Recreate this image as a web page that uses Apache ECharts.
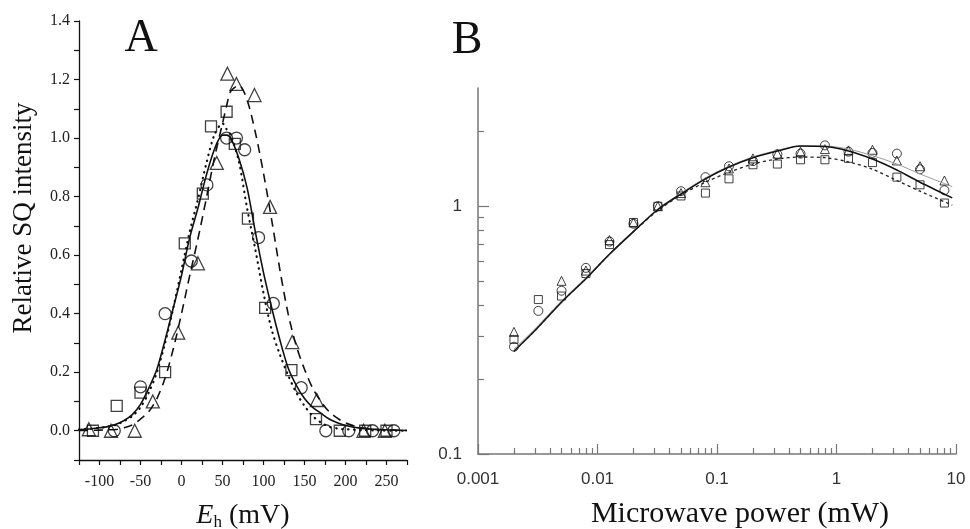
<!DOCTYPE html>
<html>
<head>
<meta charset="utf-8">
<script src="https://cdn.jsdelivr.net/npm/echarts@6/dist/echarts.min.js"></script>
<style>
html, body { margin: 0; padding: 0; background: #fff; }
#main { width: 970px; height: 529px; }
</style>
</head>
<body>
<div id="main"></div>
<script>
// panel A - SQ intensity vs Eh
var aCircleE = [-82, -50, -20, 12, 31, 55, 67, 77, 94, 112, 146, 176, 204, 233, 259];
var aCircleI = [0, 0.15, 0.40, 0.58, 0.84, 1.0, 1.0, 0.96, 0.66, 0.435, 0.147, 0, 0, 0, 0];
var aSquareE = [-108, -79, -50, -20, 4, 26, 36, 55, 65, 81, 102, 134, 164, 193, 224, 250];
var aSquareI = [0, 0.085, 0.13, 0.20, 0.64, 0.81, 1.04, 1.09, 0.98, 0.725, 0.42, 0.207, 0.04, 0, 0, 0];
var aTriE = [-113, -86, -57, -35, -4, 20, 43, 56, 67, 89, 108, 135, 165, 222, 248];
var aTriI = [0.005, 0, 0, 0.10, 0.335, 0.572, 0.915, 1.22, 1.185, 1.147, 0.765, 0.303, 0.105, 0, 0];

var fitE = [-125, -110, -100, -90, -80, -70, -60, -50, -40, -30, -20, -10, 0, 10, 20, 30, 40, 50, 55, 60, 70, 80, 90, 100, 110, 120, 130, 140, 150, 160, 170, 180, 190, 200, 220, 240, 260, 275];
var fitSolid = [0.004, 0.007, 0.010, 0.014, 0.022, 0.035, 0.055, 0.09, 0.145, 0.21, 0.31, 0.42, 0.53, 0.66, 0.76, 0.87, 0.96, 1.01, 1.01, 1.0, 0.93, 0.83, 0.68, 0.54, 0.42, 0.31, 0.215, 0.155, 0.11, 0.08, 0.06, 0.04, 0.027, 0.018, 0.008, 0.004, 0.002, 0.001];
var fitDash = [0.001, 0.0015, 0.002, 0.003, 0.004, 0.01, 0.02, 0.04, 0.065, 0.11, 0.18, 0.28, 0.40, 0.53, 0.655, 0.79, 0.93, 1.05, 1.11, 1.16, 1.18, 1.13, 1.02, 0.88, 0.72, 0.55, 0.40, 0.29, 0.21, 0.145, 0.10, 0.065, 0.043, 0.027, 0.01, 0.004, 0.002, 0.001];
var fitDot = [0.004, 0.007, 0.01, 0.014, 0.02, 0.033, 0.05, 0.08, 0.13, 0.20, 0.30, 0.42, 0.55, 0.68, 0.79, 0.91, 1.01, 1.05, 1.03, 1.01, 0.92, 0.76, 0.62, 0.47, 0.345, 0.26, 0.19, 0.13, 0.085, 0.05, 0.028, 0.014, 0.008, 0.005, 0.002, 0.001, 0, 0];

// panel B - power saturation
var bPower = [0.002, 0.0032, 0.005, 0.008, 0.0126, 0.02, 0.032, 0.05, 0.08, 0.126, 0.2, 0.32, 0.5, 0.8, 1.26, 2, 3.2, 5, 8];
var bCircle = [0.271, 0.378, 0.456, 0.564, 0.72, 0.85, 1.0, 1.15, 1.31, 1.45, 1.52, 1.62, 1.63, 1.76, 1.66, 1.64, 1.63, 1.41, 1.16];
var bSquare = [0.29, 0.42, 0.434, 0.535, 0.70, 0.86, 1.0, 1.10, 1.13, 1.29, 1.47, 1.48, 1.54, 1.54, 1.56, 1.50, 1.31, 1.22, 1.03];
var bTriangle = [0.311, null, 0.50, 0.55, 0.73, 0.86, 1.0, 1.13, 1.25, 1.42, 1.56, 1.63, 1.66, 1.70, 1.68, 1.69, 1.53, 1.45, 1.27];

var bFitP = [0.002, 0.003, 0.005, 0.008, 0.0126, 0.02, 0.032, 0.05, 0.08, 0.126, 0.2, 0.32, 0.5, 0.8, 1.26, 2, 3.2, 5, 9.3];
var bFitSolid = [0.26, 0.315, 0.41, 0.51, 0.64, 0.79, 0.97, 1.12, 1.29, 1.44, 1.57, 1.67, 1.75, 1.74, 1.67, 1.55, 1.40, 1.25, 1.08];
var bFitThin = [0.265, 0.32, 0.415, 0.515, 0.645, 0.795, 0.975, 1.13, 1.30, 1.45, 1.58, 1.68, 1.75, 1.75, 1.70, 1.60, 1.48, 1.35, 1.20];
var bFitDot = [0.26, 0.315, 0.41, 0.51, 0.64, 0.79, 0.96, 1.11, 1.25, 1.37, 1.48, 1.55, 1.58, 1.57, 1.51, 1.41, 1.27, 1.15, 1.01];

var bMajorX = [0.001, 0.01, 0.1, 1, 10];
var bMajorY = [0.1, 1];
var bMinorY = [0.2, 0.3, 0.4, 0.5, 0.6, 0.7, 0.8, 0.9, 2];
var bMinorX = [];
for (var d = 0; d < 4; d++) {
    for (var k = 2; k <= 9; k++) {
        bMinorX.push(+(k * bMajorX[d]).toPrecision(3));
    }
}

function zip(xs, ys) {
    var out = [];
    for (var i = 0; i < xs.length; i++) {
        if (ys[i] != null) out.push([xs[i], ys[i]]);
    }
    return out;
}

var serif = 'Liberation Serif';
var sans = 'Liberation Sans';
var hollow = function (w) {
    return { color: 'rgba(0,0,0,0)', borderColor: '#111', borderWidth: w };
};

var chart = echarts.init(document.getElementById('main'));
var option = {
    animation: false,
    backgroundColor: '#fff',
    grid: [
        { left: 79, top: 21, width: 328, height: 439 },
        { left: 478, top: 88, width: 478, height: 366 }
    ],
    xAxis: [
        {
            gridIndex: 0, type: 'value', min: -125, max: 275, interval: 25,
            axisLine: { onZero: false, lineStyle: { color: '#111', width: 1.3 } },
            axisTick: { length: 5, lineStyle: { color: '#111', width: 1.2 } },
            axisLabel: {
                margin: 14, fontFamily: serif, fontSize: 16, color: '#222',
                formatter: function (v) {
                    return (v % 50 === 0 && v >= -100 && v <= 250) ? String(v) : '';
                }
            },
            splitLine: { show: false }
        },
        {
            gridIndex: 1, type: 'log', min: 0.001, max: 10,
            axisLine: { onZero: false, lineStyle: { color: '#777', width: 1.5 } },
            axisTick: { inside: true, length: 10, customValues: bMajorX, lineStyle: { color: '#777', width: 1.2 } },
            axisLabel: {
                customValues: bMajorX, margin: 17, fontFamily: sans, fontSize: 17, color: '#333',
                formatter: function (v) { return String(+v.toPrecision(3)); }
            },
            splitLine: { show: false }
        },
        {
            gridIndex: 1, type: 'log', min: 0.001, max: 10, position: 'bottom',
            axisLine: { show: false },
            axisTick: { inside: true, length: 6, customValues: bMinorX, lineStyle: { color: '#777', width: 1.2 } },
            axisLabel: { show: false },
            splitLine: { show: false }
        }
    ],
    yAxis: [
        {
            gridIndex: 0, type: 'value', min: -0.1, max: 1.4, interval: 0.1,
            axisLine: { show: true, onZero: false, lineStyle: { color: '#111', width: 1.3 } },
            axisTick: { show: true, length: 5, lineStyle: { color: '#111', width: 1.2 } },
            axisLabel: {
                margin: 9, fontFamily: serif, fontSize: 16, color: '#222',
                formatter: function (v) {
                    var k = Math.round(v * 10);
                    return (k >= 0 && k % 2 === 0) ? (k / 10).toFixed(1) : '';
                }
            },
            splitLine: { show: false }
        },
        {
            gridIndex: 1, type: 'log', min: 0.1, max: 3,
            axisLine: { show: true, onZero: false, lineStyle: { color: '#777', width: 1.5 } },
            axisTick: { show: true, inside: true, length: 11, customValues: bMajorY, lineStyle: { color: '#777', width: 1.2 } },
            axisLabel: {
                customValues: bMajorY, margin: 16, fontFamily: sans, fontSize: 17, color: '#333',
                formatter: function (v) { return String(+v.toPrecision(3)); }
            },
            splitLine: { show: false }
        },
        {
            gridIndex: 1, type: 'log', min: 0.1, max: 3, position: 'left',
            axisLine: { show: false },
            axisTick: { show: true, inside: true, length: 6, customValues: bMinorY, lineStyle: { color: '#777', width: 1.2 } },
            axisLabel: { show: false },
            splitLine: { show: false }
        }
    ],
    graphic: [
        { type: 'text', x: 141, y: 39, style: { text: 'A', fontFamily: serif, fontSize: 46, fill: '#111', align: 'center', verticalAlign: 'middle' } },
        { type: 'text', x: 467, y: 41, style: { text: 'B', fontFamily: serif, fontSize: 46, fill: '#111', align: 'center', verticalAlign: 'middle' } },
        { type: 'text', x: 24, y: 218, rotation: Math.PI / 2, style: { text: 'Relative SQ intensity', fontFamily: serif, fontSize: 27, fill: '#111', align: 'center', verticalAlign: 'middle' } },
        {
            type: 'text', x: 243, y: 516,
            style: {
                text: '{i|E}{s|h} (mV)', fontFamily: serif, fontSize: 28, fill: '#111', align: 'center', verticalAlign: 'middle',
                rich: {
                    i: { fontFamily: serif, fontStyle: 'italic', fontSize: 28 },
                    s: { fontFamily: serif, fontSize: 17, padding: [14, 0, 0, 0] }
                }
            }
        },
        { type: 'text', x: 740, y: 514, style: { text: 'Microwave power (mW)', fontFamily: serif, fontSize: 30, fill: '#111', align: 'center', verticalAlign: 'middle' } }
    ],
    series: [
        { type: 'line', xAxisIndex: 0, yAxisIndex: 0, data: zip(fitE, fitSolid), showSymbol: false, smooth: 0.3, lineStyle: { color: '#111', width: 1.6 } },
        { type: 'line', xAxisIndex: 0, yAxisIndex: 0, data: zip(fitE, fitDash), showSymbol: false, smooth: 0.3, lineStyle: { color: '#111', width: 1.6, type: [9, 6] } },
        { type: 'line', xAxisIndex: 0, yAxisIndex: 0, data: zip(fitE, fitDot), showSymbol: false, smooth: 0.3, lineStyle: { color: '#111', width: 2.2, type: [0.5, 5.5], cap: 'round' } },
        { type: 'scatter', xAxisIndex: 0, yAxisIndex: 0, data: zip(aCircleE, aCircleI), symbol: 'circle', symbolSize: 12, itemStyle: hollow(1.3) },
        { type: 'scatter', xAxisIndex: 0, yAxisIndex: 0, data: zip(aSquareE, aSquareI), symbol: 'rect', symbolSize: 11, itemStyle: hollow(1.3) },
        { type: 'scatter', xAxisIndex: 0, yAxisIndex: 0, data: zip(aTriE, aTriI), symbol: 'triangle', symbolSize: 13, itemStyle: hollow(1.3) },

        { type: 'line', xAxisIndex: 1, yAxisIndex: 1, data: zip(bFitP, bFitThin), showSymbol: false, smooth: 0.3, lineStyle: { color: '#999', width: 1 } },
        { type: 'line', xAxisIndex: 1, yAxisIndex: 1, data: zip(bFitP, bFitSolid), showSymbol: false, smooth: 0.3, lineStyle: { color: '#111', width: 1.5 } },
        { type: 'line', xAxisIndex: 1, yAxisIndex: 1, data: zip(bFitP, bFitDot), showSymbol: false, smooth: 0.3, lineStyle: { color: '#222', width: 1.3, type: [3, 3] } },
        { type: 'scatter', xAxisIndex: 1, yAxisIndex: 1, data: zip(bPower, bCircle), symbol: 'circle', symbolSize: 9, itemStyle: hollow(1) },
        { type: 'scatter', xAxisIndex: 1, yAxisIndex: 1, data: zip(bPower, bSquare), symbol: 'rect', symbolSize: 8, itemStyle: hollow(1) },
        { type: 'scatter', xAxisIndex: 1, yAxisIndex: 1, data: zip(bPower, bTriangle), symbol: 'triangle', symbolSize: 9, itemStyle: hollow(1) }
    ]
};
chart.setOption(option);
</script>
</body>
</html>
